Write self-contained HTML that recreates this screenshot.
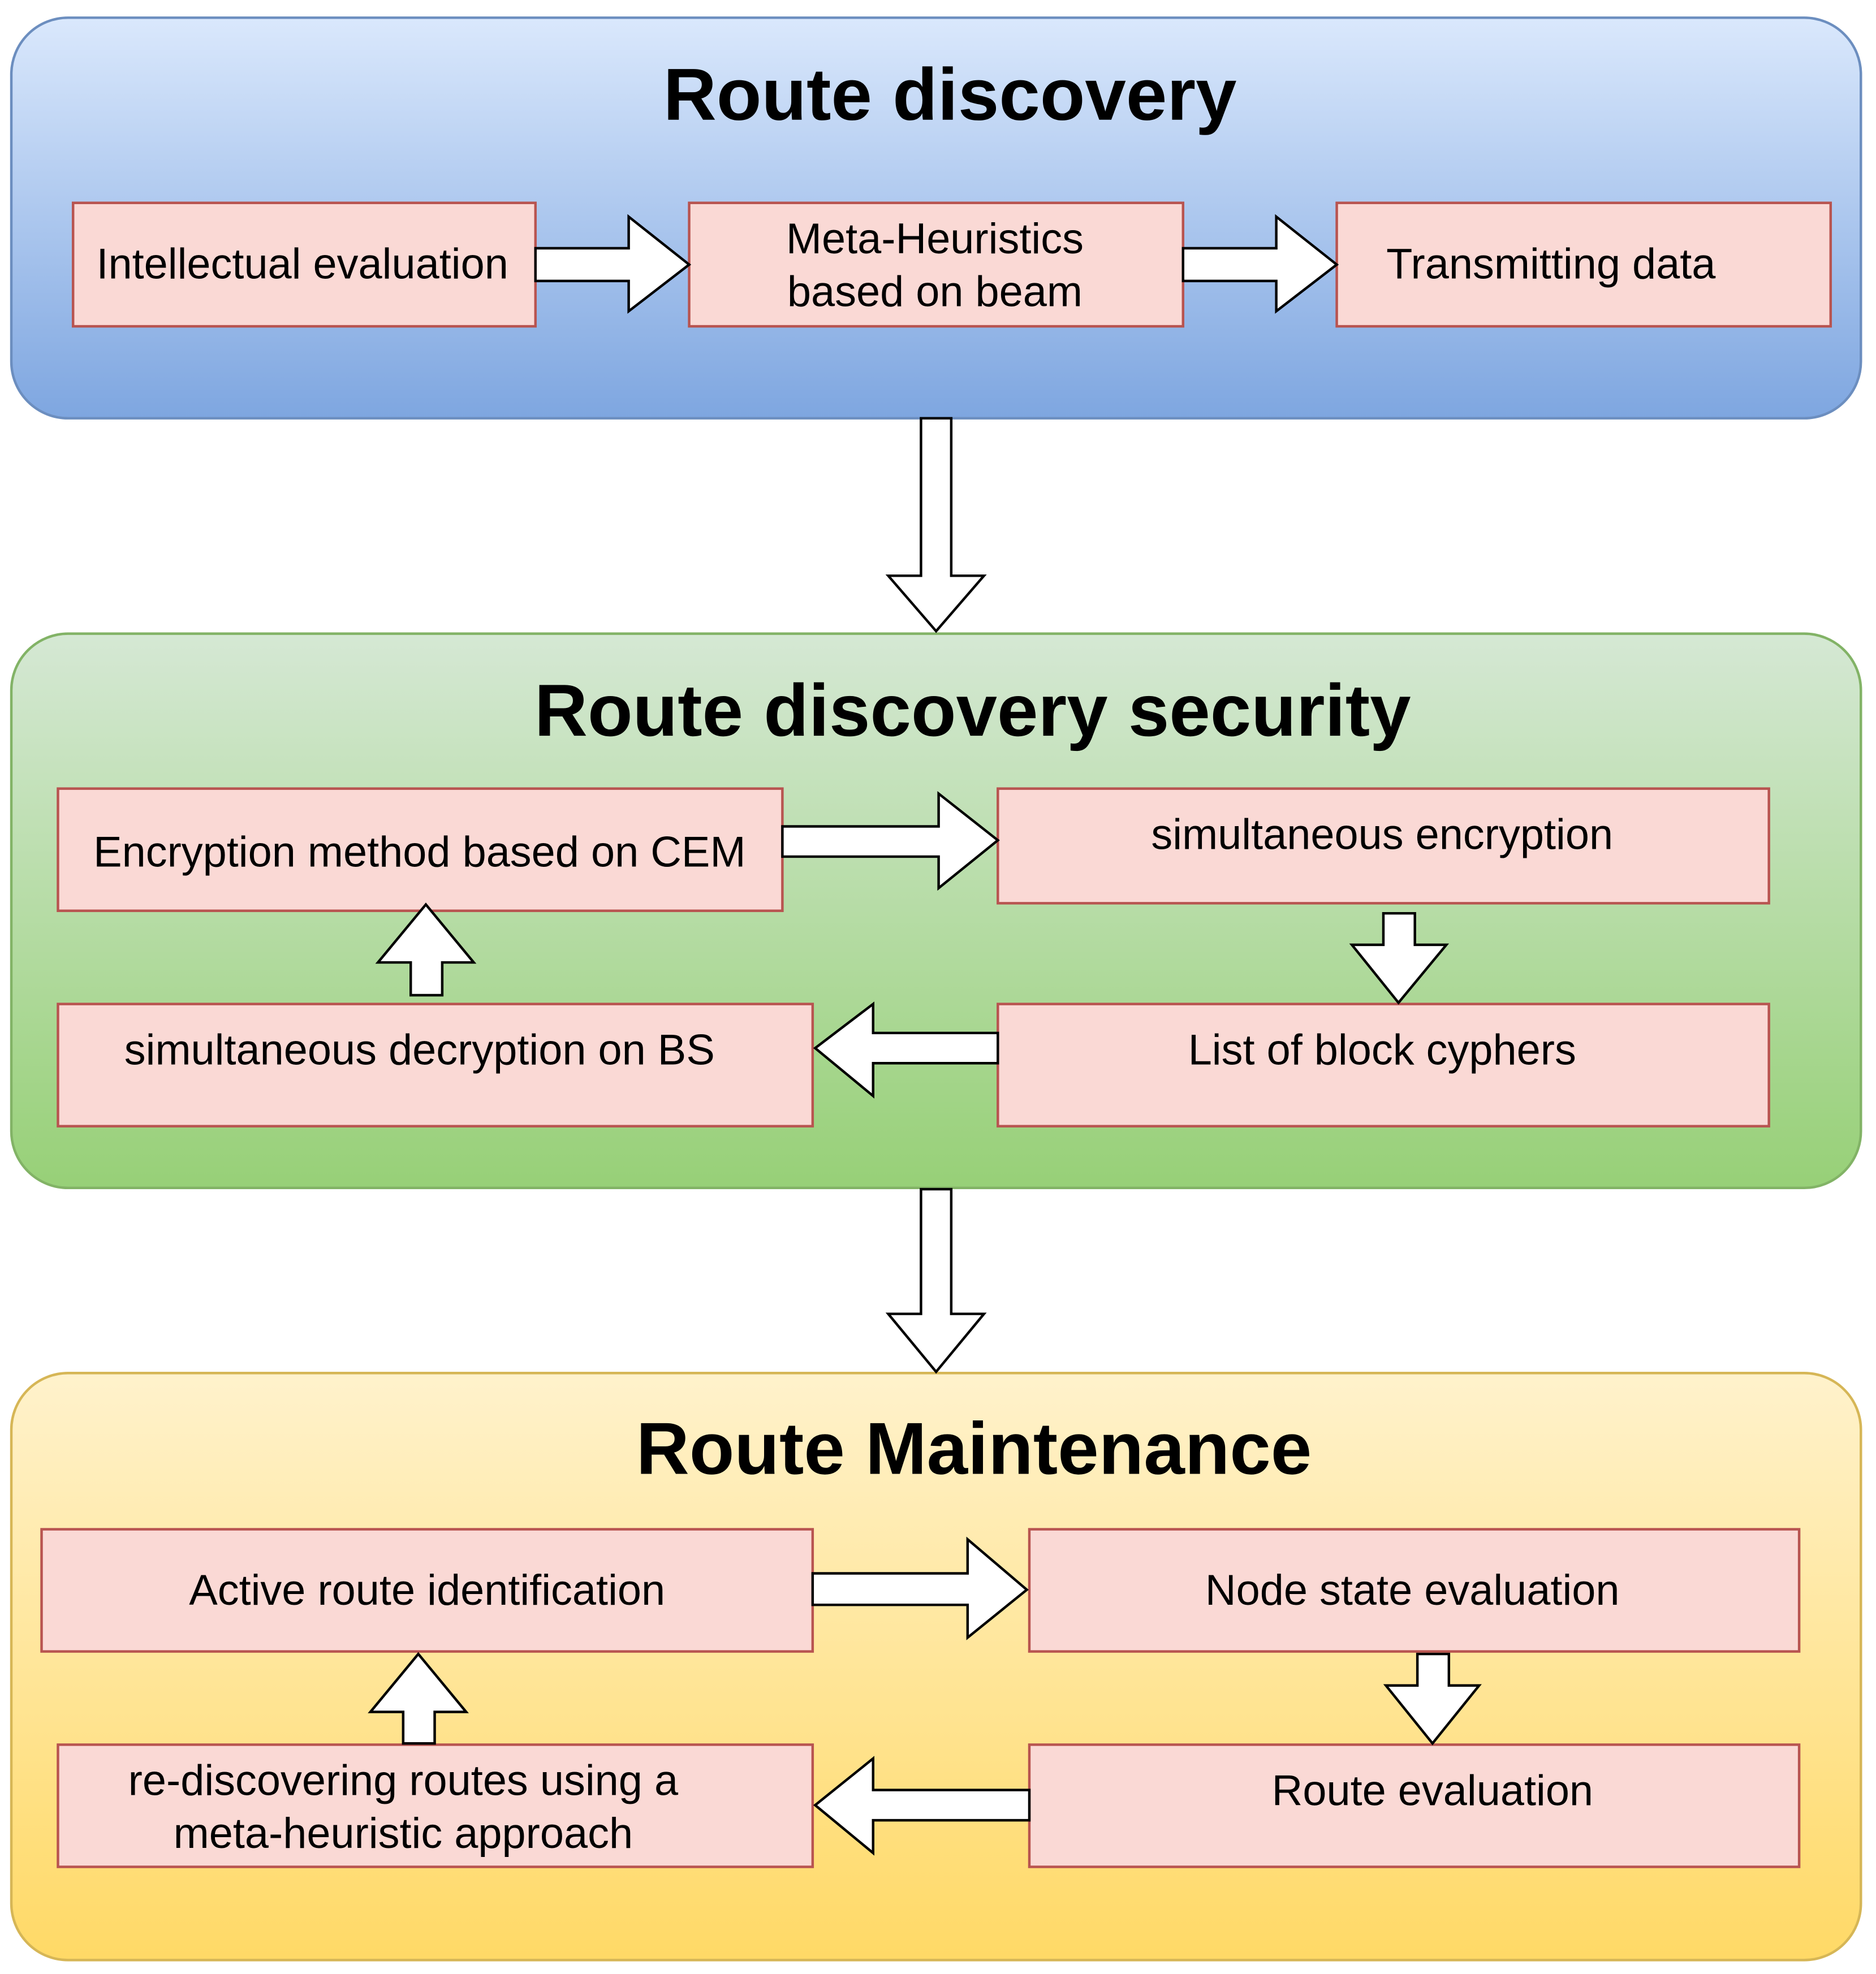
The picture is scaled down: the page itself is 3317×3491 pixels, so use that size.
<!DOCTYPE html>
<html><head><meta charset="utf-8"><style>html,body{margin:0;padding:0;background:#fff}svg{display:block}</style></head>
<body>
<svg xmlns="http://www.w3.org/2000/svg" width="3317" height="3491" viewBox="0 0 1489 1567">
<defs>
<linearGradient id="gb" x1="0" y1="0" x2="0" y2="1"><stop offset="0" stop-color="#dae8fc"/><stop offset="1" stop-color="#7ea6e0"/></linearGradient>
<linearGradient id="gg" x1="0" y1="0" x2="0" y2="1"><stop offset="0" stop-color="#d5e8d4"/><stop offset="1" stop-color="#97d077"/></linearGradient>
<linearGradient id="gy" x1="0" y1="0" x2="0" y2="1"><stop offset="0" stop-color="#fff2cc"/><stop offset="1" stop-color="#ffd966"/></linearGradient>
</defs>
<g font-family="Liberation Sans, Arial, sans-serif">
<rect x="9" y="14" width="1468" height="318" rx="45" fill="url(#gb)" stroke="#6c8ebf" stroke-width="2"/>
<rect x="9" y="503" width="1468" height="440" rx="45" fill="url(#gg)" stroke="#82b366" stroke-width="2"/>
<rect x="9" y="1090" width="1468" height="466" rx="45" fill="url(#gy)" stroke="#d6b656" stroke-width="2"/>

<g font-size="58.5" font-weight="bold" text-anchor="middle" fill="#000">
<text x="754" y="95">Route discovery</text>
<text x="772" y="584">Route discovery security</text>
<text x="773" y="1170">Route Maintenance</text>
</g>

<g fill="#fad9d5" stroke="#b85450" stroke-width="2">
<rect x="58" y="161" width="367" height="98"/>
<rect x="547" y="161" width="392" height="98"/>
<rect x="1061" y="161" width="392" height="98"/>
<rect x="46" y="626" width="575" height="97"/>
<rect x="792" y="626" width="612" height="91"/>
<rect x="46" y="797" width="599" height="97"/>
<rect x="792" y="797" width="612" height="97"/>
<rect x="33" y="1214" width="612" height="97"/>
<rect x="817" y="1214" width="611" height="97"/>
<rect x="46" y="1385" width="599" height="97"/>
<rect x="817" y="1385" width="611" height="97"/>
</g>

<g font-size="34" text-anchor="middle" fill="#000">
<text x="240" y="221">Intellectual evaluation</text>
<text x="742" y="201">Meta-Heuristics</text>
<text x="742" y="243">based on beam</text>
<text x="1231" y="221">Transmitting data</text>
<text x="333" y="688">Encryption method based on CEM</text>
<text x="1097" y="674">simultaneous encryption</text>
<text x="333" y="845">simultaneous decryption on BS</text>
<text x="1097" y="845">List of block cyphers</text>
<text x="339" y="1274">Active route identification</text>
<text x="1121" y="1274">Node state evaluation</text>
<text x="320" y="1425">re-discovering routes using a</text>
<text x="320" y="1467">meta-heuristic approach</text>
<text x="1137" y="1433">Route evaluation</text>
</g>

<g fill="#fff" stroke="#000" stroke-width="2" stroke-linejoin="miter">
<polygon points="425,197 499,197 499,172 547,210 499,247 499,223 425,223"/>
<polygon points="939,197 1013,197 1013,172 1061,210 1013,247 1013,223 939,223"/>
<polygon points="731,332 755,332 755,457 781,457 743,501 705,457 731,457"/>
<polygon points="731,944 755,944 755,1043 781,1043 743,1089 705,1043 731,1043"/>
<polygon points="621,656 745,656 745,630 792,667 745,705 745,680 621,680"/>
<polygon points="1098,725 1123,725 1123,750 1148,750 1110,796 1073,750 1098,750"/>
<polygon points="792,820 693,820 693,797 647,832 693,870 693,844 792,844"/>
<polygon points="326,790 351,790 351,764 376,764 338,718 300,764 326,764"/>
<polygon points="645,1249 768,1249 768,1222 815,1262 768,1300 768,1274 645,1274"/>
<polygon points="1125,1313 1150,1313 1150,1338 1174,1338 1137,1384 1100,1338 1125,1338"/>
<polygon points="817,1421 693,1421 693,1396 647,1433 693,1471 693,1445 817,1445"/>
<polygon points="320,1384 345,1384 345,1359 370,1359 332,1313 294,1359 320,1359"/>
</g>
</g>
</svg>
</body></html>
